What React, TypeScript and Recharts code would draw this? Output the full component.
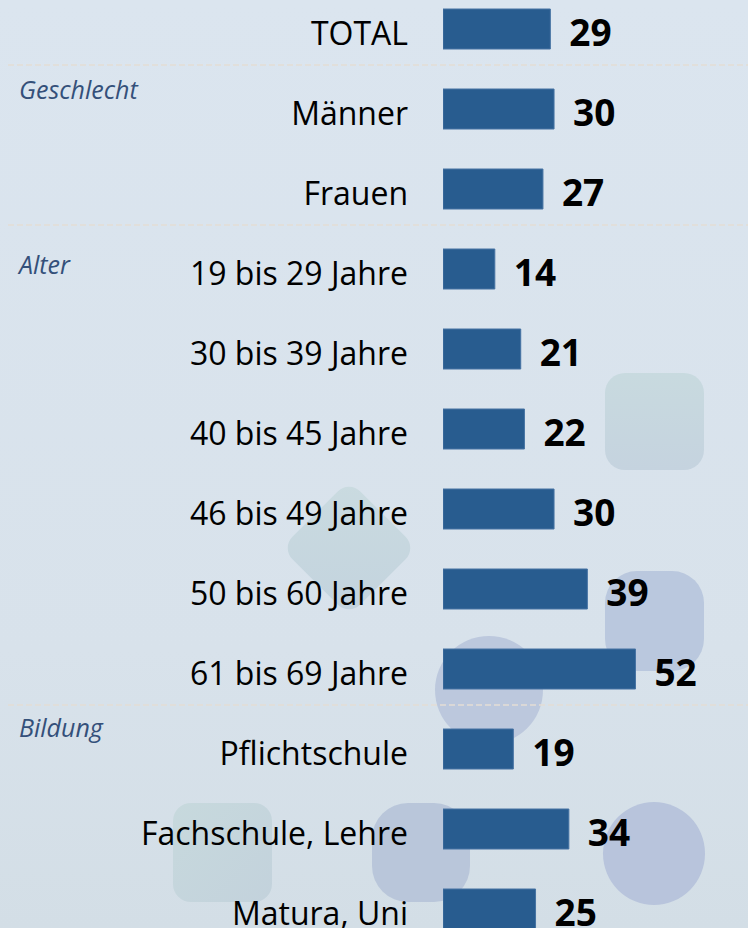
import { Bar, BarChart, LabelList, ReferenceLine, XAxis, YAxis } from "recharts";

const categories = [
  "TOTAL",
  "Männer",
  "Frauen",
  "19 bis 29 Jahre",
  "30 bis 39 Jahre",
  "40 bis 45 Jahre",
  "46 bis 49 Jahre",
  "50 bis 60 Jahre",
  "61 bis 69 Jahre",
  "Pflichtschule",
  "Fachschule, Lehre",
  "Matura, Uni"
];
const values = [29, 30, 27, 14, 21, 22, 30, 39, 52, 19, 34, 25];

// group headings and the first row of each group
const groupLabels = ["Geschlecht", "Alter", "Bildung"];
const groupStarts = ["Männer", "19 bis 29 Jahre", "Pflichtschule"];

const FONT = "'Open Sans', 'Liberation Sans', sans-serif";
const BAR_COLOR = "#285c8f";
const GROUP_LABEL_DY = [30, 45, 28];

// soft background decoration shapes
const DECOR: React.CSSProperties[] = [
  { left: 605, top: 373, width: 99, height: 97, borderRadius: 20, background: "linear-gradient(#c8dadf, #c5d3df)" },
  { left: 605, top: 571, width: 99, height: 100, borderRadius: 32, background: "#bac8de" },
  { left: 301, top: 500, width: 96, height: 96, borderRadius: 16, background: "linear-gradient(135deg, #cadbe0, #c3d3de)", transform: "rotate(45deg)" },
  { left: 435, top: 636, width: 108, height: 108, borderRadius: "50%", background: "#bcc8dd" },
  { left: 173, top: 803, width: 99, height: 99, borderRadius: 18, background: "linear-gradient(135deg, #c7d9dd, #c3d2dc)" },
  { left: 372, top: 803, width: 98, height: 99, borderRadius: 36, background: "#b9c6da" },
  { left: 603, top: 802, width: 102, height: 103, borderRadius: "50%", background: "#b8c4dc" }
];

const data = categories.map((name, i) => ({ name, value: values[i] }));

function CategoryTick(props: any) {
  return (
    <text
      x={props.x}
      y={props.y}
      dy={16}
      textAnchor="end"
      fontFamily={FONT}
      fontSize={32}
      fill="#000"
    >
      {props.payload.value}
    </text>
  );
}

function ValueLabel(props: any) {
  const { x, y, width, height, value } = props;
  return (
    <text
      x={Number(x) + Number(width) + 19}
      y={Number(y) + Number(height) / 2 + 17}
      fontFamily={FONT}
      fontWeight={700}
      fontSize={37}
      fill="#000"
    >
      {value}
    </text>
  );
}

function separator(label: string, dy: number) {
  return (props: any) => (
    <g>
      <line
        x1={8}
        x2={748}
        y1={props.y1 - 4}
        y2={props.y2 - 4}
        stroke="#e4ddd5"
        strokeWidth={1.5}
        strokeDasharray="6 3"
      />
      <text
        x={19}
        y={props.y1 + dy}
        fontFamily={FONT}
        fontStyle="italic"
        fontSize={25}
        fill="#34507a"
      >
        {label}
      </text>
    </g>
  );
}

export default function App() {
  return (
    <div
      style={{
        position: "absolute",
        left: 0,
        top: 0,
        width: 748,
        height: 928,
        overflow: "hidden",
        background: "linear-gradient(#dbe5ef, #d8e2eb 70%, #d3dee6)"
      }}
    >
      {DECOR.map((style, i) => (
        <div key={i} style={{ position: "absolute", ...style }} />
      ))}
      <div style={{ position: "absolute", left: 0, top: -11 }}>
        <BarChart
          width={748}
          height={960}
          data={data}
          layout="vertical"
          margin={{ top: 0, right: 0, bottom: 0, left: 0 }}
        >
          <XAxis type="number" domain={[0, 82.4]} allowDataOverflow hide />
          <YAxis
            type="category"
            dataKey="name"
            width={443}
            interval={0}
            tickLine={false}
            axisLine={false}
            tickMargin={29}
            tick={<CategoryTick />}
          />
          {groupStarts.map((start, i) => (
            <ReferenceLine
              key={start}
              y={start}
              position="start"
              ifOverflow="visible"
              shape={separator(groupLabels[i], GROUP_LABEL_DY[i])}
            />
          ))}
          <Bar
            dataKey="value"
            fill={BAR_COLOR}
            stroke="#4673a3"
            strokeWidth={1}
            barSize={40}
            isAnimationActive={false}
          >
            <LabelList dataKey="value" content={<ValueLabel />} />
          </Bar>
        </BarChart>
      </div>
    </div>
  );
}
